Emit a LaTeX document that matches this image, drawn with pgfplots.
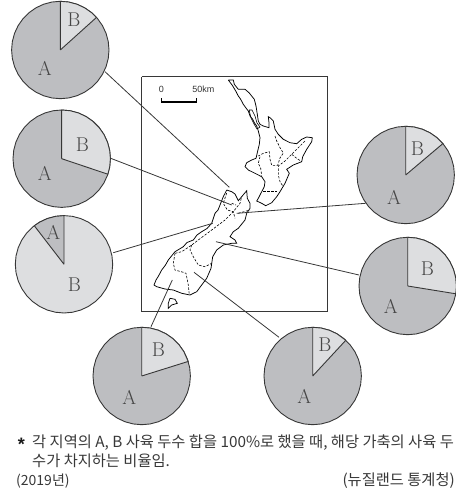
\documentclass[border=0pt]{standalone}
\usepackage{fontspec}
\usepackage{pgfplots}
\usepackage{pgfplotstable}
\pgfplotsset{compat=1.18}
\usepgfplotslibrary{polar}
\newfontfamily\kr{Noto Sans CJK KR}
\newfontfamily\lab{Liberation Sans}
\definecolor{acol}{RGB}{189,190,193}
\definecolor{bcol}{RGB}{221,222,224}
\definecolor{ink}{RGB}{55,55,55}
\definecolor{letter}{RGB}{70,70,70}

% pie outline: angle, radius
\pgfplotstableread{
a r
0 1
10 1
20 1
30 1
40 1
50 1
60 1
70 1
80 1
90 1
100 1
110 1
120 1
130 1
140 1
150 1
160 1
170 1
180 1
190 1
200 1
210 1
220 1
230 1
240 1
250 1
260 1
270 1
280 1
290 1
300 1
310 1
320 1
330 1
340 1
350 1
360 1
}\disc
% wedges, clockwise from the top
\pgfplotstableread{
a r
90 0
90 1
80 1
70 1
60 1
50 1
42 1
42 0
}\wedgeA
\pgfplotstableread{
a r
90 0
90 1
80 1
70 1
60 1
50 1
40 1
30 1
20 1
10 1
0 1
-10 1
-18.6 1
-18.6 0
}\wedgeB
\pgfplotstableread{
a r
90 0
90 1
100 1
110 1
120 1
127.6 1
127.6 0
}\wedgeC
\pgfplotstableread{
a r
90 0
90 1
80 1
70 1
60 1
50 1
40 1
30 1
17.4 1
17.4 0
}\wedgeD
\pgfplotstableread{
a r
90 0
90 1
80 1
70 1
60 1
47.2 1
47.2 0
}\wedgeE
\pgfplotstableread{
a r
90 0
90 1
80 1
70 1
60 1
50 1
40 1
30 1
20 1
10 1
0 1
-9.2 1
-9.2 0
}\wedgeF
\pgfplotstableread{
a r
90 0
90 1
80 1
70 1
60 1
50 1
40.2 1
40.2 0
}\wedgeG

\newcommand{\pie}[5]{%
  \begin{polaraxis}[at={(#1pt,{492pt-#2pt})},anchor=center,
    width=97.4pt,height=97.4pt,scale only axis,hide axis,clip=false,
    ymin=0,ymax=1,xmin=0,xmax=360]
    \addplot[draw=ink,fill=#3,line width=0.9pt,no markers] table[x=a,y=r] {\disc};
    \addplot[draw=ink,fill=#4,line width=0.9pt,no markers] table[x=a,y=r] {#5};
  \end{polaraxis}}

\tikzset{pl/.style={font=\fontsize{20}{20}\selectfont,text=letter,inner sep=0pt},
  krt/.style={font=\kr\fontsize{15.3}{17}\selectfont,text=black!78,inner sep=0pt}}

\begin{document}
\begin{tikzpicture}
\path[use as bounding box] (0,0) rectangle (455pt,492pt);
\pie{60.3}{50}{acol}{bcol}{\wedgeA}
\pie{61.7}{158.7}{acol}{bcol}{\wedgeB}
\pie{64}{264.3}{bcol}{acol}{\wedgeC}
\pie{141.7}{376}{acol}{bcol}{\wedgeD}
\pie{312.7}{376}{acol}{bcol}{\wedgeE}
\pie{407.7}{286}{acol}{bcol}{\wedgeF}
\pie{405.7}{175}{acol}{bcol}{\wedgeG}

\begin{axis}[at={(0,0)},anchor=south west,width=455pt,height=492pt,scale only axis,
  xmin=0,xmax=455,ymin=0,ymax=492,y dir=reverse,hide axis,clip=false]
% map frame
\addplot[draw=ink,line width=1pt,no markers] coordinates {(141.5,76.7)(327.5,76.7)(327.5,311)(141.5,311)(141.5,76.7)};
% scale bar
\addplot[draw=black,line width=0.8pt,no markers] coordinates {(161.7,98.3)(161.7,102)};
\addplot[draw=black,line width=0.8pt,no markers] coordinates {(196,98.3)(196,102)};
\addplot[draw=black,line width=1.3pt,no markers] coordinates {(161.2,102)(196.5,102)};
% north island
\addplot[draw=black,line width=0.75pt,no markers] coordinates {
(228.3,80)(232.3,85.3)(235.7,91)(238.3,96)(240.5,99)(243.3,104.3)(246,108)(248.3,111)(250,116)(252.5,119)(254.3,122.7)
(256.7,126)(258.3,131)(260,137.7)(259.3,144.3)(257.7,151)(256,158.3)(251.7,160)(246.7,162.7)
(245,166.7)(248.3,170)(255,173.3)(261.7,176.7)(265,181.7)(264.3,186.7)(261.7,191.7)(258.3,198.3)
(256.7,201)(261.7,203.3)(265.7,205.7)(271.7,202.7)(276.7,196.7)(280,191.7)(285,183.3)(289.3,173.3)
(286.7,169.3)(293.3,165)(301.7,161.7)(302.7,156.7)(306.7,149.3)(311.7,141.7)(312.3,137.7)(306.7,137)
(301.7,139.3)(296.7,143.7)(290,142.7)(283.3,139.3)(278.3,134.3)(275,129.3)(273.3,121)(270,117.7)
(268.3,116.7)(269,122.7)(269,127.7)(263.3,126)(260,124.3)(258.3,121)(257.3,114.3)(256,106)
(254.3,99.3)(249,92.7)(245,89.3)(238.3,89.3)(234.3,84.3)(233.3,80)(228.3,80)};
\addplot[draw=black,line width=0.6pt,no markers] coordinates {(249,110)(252,110)(255,116)(257,123)(260,127)(257,129)(254,124)(251,118)(249,110)};
% south island
\addplot[draw=black,line width=0.75pt,no markers] coordinates {
(226.7,190)(231.7,191.7)(235,194)(238.3,200.7)(241.7,196.7)(246.7,190.7)(247.3,198.3)(250,203.3)
(250,208.3)(246.7,213.3)(245,220)(238.3,228.3)(233.3,231.7)(230,236.7)(235,240)(236.7,243.3)
(231.7,243.3)(223.3,245)(216.7,250)(212.7,256.7)(211,268.3)(206.7,278.3)(201.7,285)(196.7,291.7)
(190,295)(181.7,293.3)(173.3,290)(165,289)(156.7,286.7)(154,285)(156,280)(158.5,276)(161.7,270)(165.5,265)(168.3,260)
(175,251.7)(183.3,246.7)(187,242.5)(193.3,240)(197,235)(201.7,231.7)(207,228.5)(211.7,223.3)(215,213.3)(218,210)(220,205)(223.3,196.7)(226.7,190)};
% stewart island
\addplot[draw=black,line width=0.75pt,no markers] coordinates {(170,298.3)(175,299.3)(177.3,303.3)(171.7,305)(168.3,308.3)(168.3,303.3)(170,298.3)};
% regional boundaries
\pgfplotsset{regbd/.style={draw=black,line width=0.6pt,dash pattern=on 2.4pt off 1.5pt,no markers}}
\addplot[regbd] coordinates {(275,136)(276.7,141)(280,147.7)(283.3,153)(280,158)(277.7,165.3)(271.7,165.3)(270,159.3)(269.3,151.7)(263.3,153.3)(258.3,156)};
\addplot[regbd] coordinates {(305,141)(291.7,154.3)(285,161)(278.3,166)(278.3,175)(280,181.7)(283.3,186.7)};
\addplot[regbd] coordinates {(291.7,154.3)(296.7,158.3)(301.7,161.7)};
\addplot[regbd] coordinates {(260,156.7)(258.3,163.3)(260.7,168.3)(261.7,176)};
\addplot[regbd] coordinates {(263.3,191.7)(271.7,191.7)(278.3,191.7)};
\addplot[regbd] coordinates {(175,253.3)(181.7,251.7)(191.7,245)(198.3,240)(211.7,230)(225,220)(233.3,211.7)(240,203.3)(241.7,196.7)};
\addplot[regbd] coordinates {(226.7,193)(223.3,203.3)(227.3,210)(233.3,211.7)(235,218.3)};
\addplot[regbd] coordinates {(238.3,213.3)(250,210)};
\addplot[regbd] coordinates {(231.7,203.3)(236,205)};
\addplot[regbd] coordinates {(191.7,245)(190,250)(193.3,256.7)(198.3,265)(205,266.7)(211.7,263.3)};
\addplot[regbd] coordinates {(175,253.3)(173.3,263.3)(175,270)(183.3,272.3)(186,273.3)(188.3,285)(189.3,295)};
% leader lines
\pgfplotsset{leader/.style={draw=ink,line width=0.8pt,no markers}}
\addplot[leader] coordinates {(105,71.7)(229.3,187.3)};
\addplot[leader] coordinates {(110.7,158.3)(231.7,205)};
\addplot[leader] coordinates {(113.3,252.7)(212.7,223.3)};
\addplot[leader] coordinates {(151,326.7)(172.3,280)};
\addplot[leader] coordinates {(279,337.3)(194,272.3)};
\addplot[leader] coordinates {(359,275)(216,241.7)};
\addplot[leader] coordinates {(365.7,203.3)(236.7,213.3)};
% pie letters
\node[pl] at (axis cs:74,20) {B};
\node[pl] at (axis cs:44.7,68) {A};
\node[pl] at (axis cs:82.3,144.3) {B};
\node[pl] at (axis cs:44.7,173.3) {A};
\node[pl] at (axis cs:53.3,232.3) {A};
\node[pl] at (axis cs:74.3,285) {B};
\node[pl] at (axis cs:158.3,350) {B};
\node[pl] at (axis cs:129.3,397.3) {A};
\node[pl] at (axis cs:325,345) {B};
\node[pl] at (axis cs:304.3,396.7) {A};
\node[pl] at (axis cs:427.3,268.3) {B};
\node[pl] at (axis cs:390.7,306.7) {A};
\node[pl] at (axis cs:417.3,149) {B};
\node[pl] at (axis cs:394,197.3) {A};
% scale labels
\node[font=\lab\fontsize{9}{9}\selectfont,text=black!80,inner sep=0pt] at (axis cs:161.3,89.3) {0};
\node[font=\lab\fontsize{9}{9}\selectfont,text=black!80,inner sep=0pt] at (axis cs:203.3,89.3) {50km};
% note
\node[font=\lab\bfseries\fontsize{18}{18}\selectfont,inner sep=0pt,text=black!90] at (axis cs:21.5,444.5) {*};
\node[krt,anchor=base west] at (axis cs:32,447.5) {각 지역의 A, B 사육 두수 합을 100\%로 했을 때, 해당 가축의 사육 두};
\node[krt,anchor=base west] at (axis cs:32,466) {수가 차지하는 비율임.};
\node[krt,anchor=base west] at (axis cs:16,485) {\fontsize{14}{17}\selectfont (2019년)};
\node[krt,anchor=base east] at (axis cs:455,485) {(뉴질랜드 통계청)};
\end{axis}
\end{tikzpicture}
\end{document}
